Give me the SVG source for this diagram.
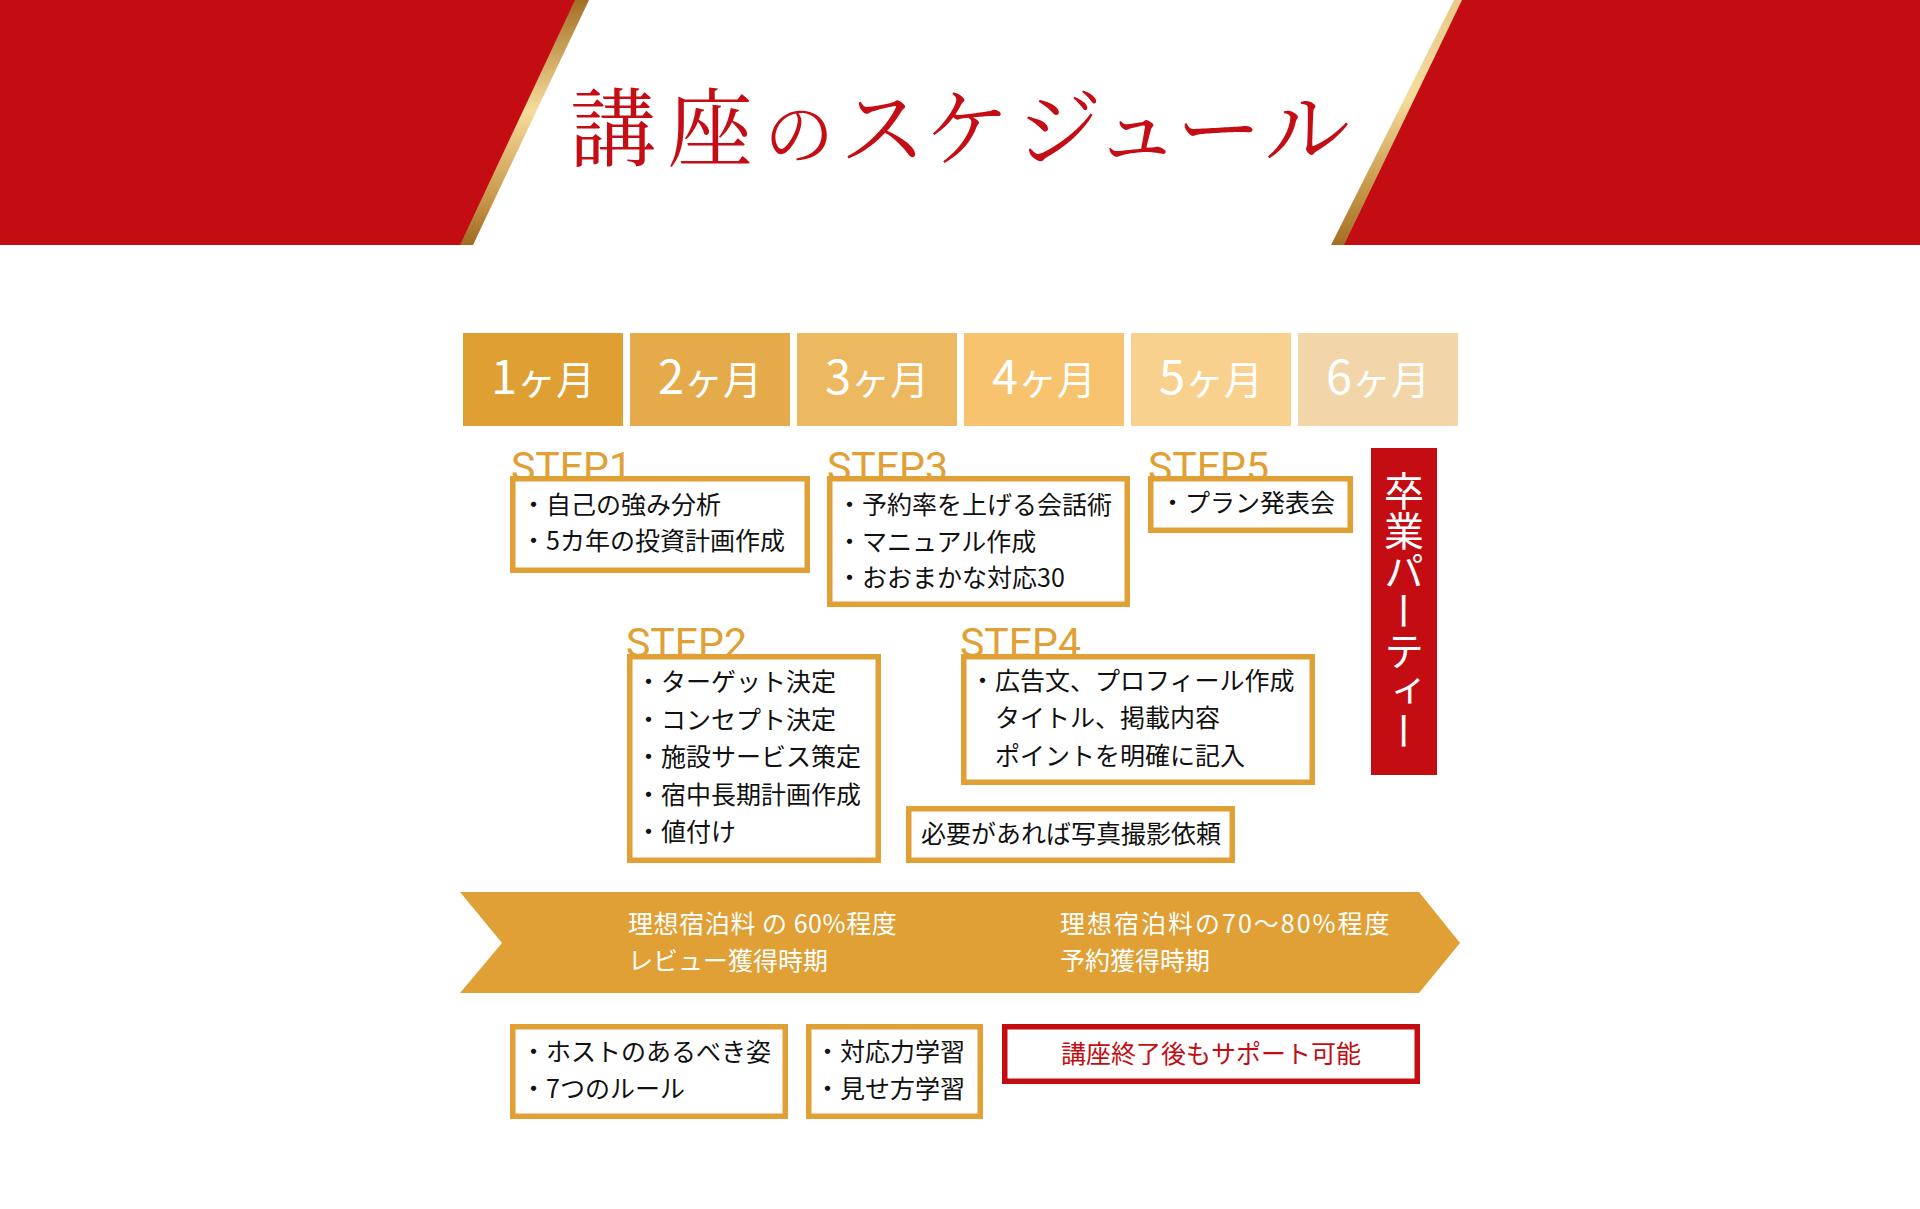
<svg xmlns="http://www.w3.org/2000/svg" width="1920" height="1209" viewBox="0 0 1920 1209">
<defs>
<linearGradient id="goldL" x1="0" y1="0" x2="0" y2="1">
<stop offset="0" stop-color="#a46f25"/>
<stop offset="0.45" stop-color="#f6dc9c"/>
<stop offset="0.8" stop-color="#c99a4e"/>
<stop offset="1" stop-color="#a06a22"/>
</linearGradient>
<linearGradient id="goldR" x1="0" y1="0" x2="0" y2="1">
<stop offset="0" stop-color="#e9c98a"/>
<stop offset="0.4" stop-color="#f5dc9d"/>
<stop offset="0.75" stop-color="#c99a4e"/>
<stop offset="1" stop-color="#a46f25"/>
</linearGradient>
<style>
.red{fill:#c30d13}
.mon{fill:#fff;font-family:"Noto Sans CJK JP","Noto Sans",sans-serif;font-size:39px;text-anchor:middle}
.mon .d{font-size:47px}
.step{fill:#e0a035;font-family:Roboto,"Noto Sans",sans-serif;font-size:41px}
.box{fill:#fff;stroke:#e0a035;stroke-width:5.5}
.rbox{fill:#fff;stroke:#c30d13;stroke-width:5.5}
.t{fill:#111;font-family:"Noto Sans CJK JP","Noto Sans",sans-serif;font-size:25px}
.w{fill:#fff;font-family:"Noto Sans CJK JP","Noto Sans",sans-serif;font-size:25px}
.rt{fill:#c30d13;font-family:"Noto Sans CJK JP","Noto Sans",sans-serif;font-size:25px;text-anchor:middle}
</style>
</defs>
<rect width="1920" height="1209" fill="#fff"/>

<g id="header">
<polygon class="red" points="0,0 576,0 461,245 0,245"/>
<polygon fill="url(#goldL)" points="575,0 589,0 473,245 460,245"/>
<polygon class="red" points="1461,0 1920,0 1920,245 1343,245"/>
<polygon fill="url(#goldR)" points="1454,0 1462,0 1344,245 1331,245"/>
<text fill="#c40d14" font-family="'Noto Serif CJK JP','Noto Sans CJK JP',serif" font-size="86" y="160"><tspan x="570">講</tspan><tspan x="667">座</tspan><tspan x="764" font-size="70">の</tspan><tspan x="840">ス</tspan><tspan x="924">ケ</tspan><tspan x="1016">ジ</tspan><tspan x="1094">ュ</tspan><tspan x="1176">ー</tspan><tspan x="1264">ル</tspan></text>
</g>

<g id="months">
<g id="m1"><rect x="463" y="333" width="160" height="93" fill="#df9f33"/><text class="mon" x="543" y="394"><tspan class="d">1</tspan>ヶ月</text></g>
<g id="m2"><rect x="630" y="333" width="160" height="93" fill="#e5ab4b"/><text class="mon" x="710" y="394"><tspan class="d">2</tspan>ヶ月</text></g>
<g id="m3"><rect x="797" y="333" width="160" height="93" fill="#ecb860"/><text class="mon" x="877" y="394"><tspan class="d">3</tspan>ヶ月</text></g>
<g id="m4"><rect x="964" y="333" width="160" height="93" fill="#f7c36f"/><text class="mon" x="1044" y="394"><tspan class="d">4</tspan>ヶ月</text></g>
<g id="m5"><rect x="1131" y="333" width="160" height="93" fill="#f9d18f"/><text class="mon" x="1211" y="394"><tspan class="d">5</tspan>ヶ月</text></g>
<g id="m6"><rect x="1298" y="333" width="160" height="93" fill="#f2d6a9"/><text class="mon" x="1378" y="394"><tspan class="d">6</tspan>ヶ月</text></g>
</g>

<g id="step1">
<text class="step" x="511" y="481">STEP1</text>
<rect class="box" x="512.75" y="478.75" width="294.5" height="91.5"/>
<text class="t" x="521" y="514">・自己の強み分析</text>
<text class="t" x="521" y="550">・5カ年の投資計画作成</text>
</g>

<g id="step3">
<text class="step" x="827" y="481">STEP3</text>
<rect class="box" x="829.75" y="478.75" width="297.5" height="125.5"/>
<text class="t" x="837" y="514">・予約率を上げる会話術</text>
<text class="t" x="837" y="550.5">・マニュアル作成</text>
<text class="t" x="837" y="587">・おおまかな対応30</text>
</g>

<g id="step5">
<text class="step" x="1148" y="481">STEP5</text>
<rect class="box" x="1150.75" y="478.75" width="199.5" height="51.5"/>
<text class="t" x="1160" y="512">・プラン発表会</text>
</g>

<g id="party">
<rect class="red" x="1371" y="448" width="66" height="327"/>
<text fill="#fff" font-family="'Noto Sans CJK JP',sans-serif" font-size="40" x="1404" y="471" style="writing-mode:vertical-rl">卒業パーティー</text>
</g>

<g id="step2">
<text class="step" x="626" y="657">STEP2</text>
<rect class="box" x="629.75" y="656.75" width="248.5" height="203.5"/>
<text class="t" x="636" y="691">・ターゲット決定</text>
<text class="t" x="636" y="728.5">・コンセプト決定</text>
<text class="t" x="636" y="766">・施設サービス策定</text>
<text class="t" x="636" y="803.5">・宿中長期計画作成</text>
<text class="t" x="636" y="841">・値付け</text>
</g>

<g id="step4">
<text class="step" x="960" y="657">STEP4</text>
<rect class="box" x="963.75" y="656.75" width="348.5" height="125.5"/>
<text class="t" x="970" y="690">・広告文、プロフィール作成</text>
<text class="t" x="995" y="727">タイトル、掲載内容</text>
<text class="t" x="995" y="765">ポイントを明確に記入</text>
</g>

<g id="photo">
<rect class="box" x="908.75" y="808.75" width="323.5" height="51.5"/>
<text class="t" x="1071" y="843" text-anchor="middle">必要があれば写真撮影依頼</text>
</g>

<g id="band">
<polygon fill="#e0a035" points="460,892 1419,892 1460,943 1419,993 460,993 502,943"/>
<text class="w" x="628" y="933" letter-spacing="0.6">理想宿泊料<tspan dx="6">の</tspan><tspan dx="6">60%程度</tspan></text>
<text class="w" x="628" y="970">レビュー獲得時期</text>
<text class="w" x="1060" y="933" letter-spacing="2">理想宿泊料の70～80%程度</text>
<text class="w" x="1060" y="970">予約獲得時期</text>
</g>

<g id="boxA">
<rect class="box" x="512.75" y="1026.75" width="272.5" height="89.5"/>
<text class="t" x="521" y="1061">・ホストのあるべき姿</text>
<text class="t" x="521" y="1098">・7つのルール</text>
</g>

<g id="boxB">
<rect class="box" x="808.75" y="1026.75" width="171.5" height="89.5"/>
<text class="t" x="815" y="1061">・対応力学習</text>
<text class="t" x="815" y="1098">・見せ方学習</text>
</g>

<g id="boxC">
<rect class="rbox" x="1004.75" y="1026.75" width="412.5" height="54.5"/>
<text class="rt" x="1211" y="1063">講座終了後もサポート可能</text>
</g>

<g id="connectors"></g>
</svg>
